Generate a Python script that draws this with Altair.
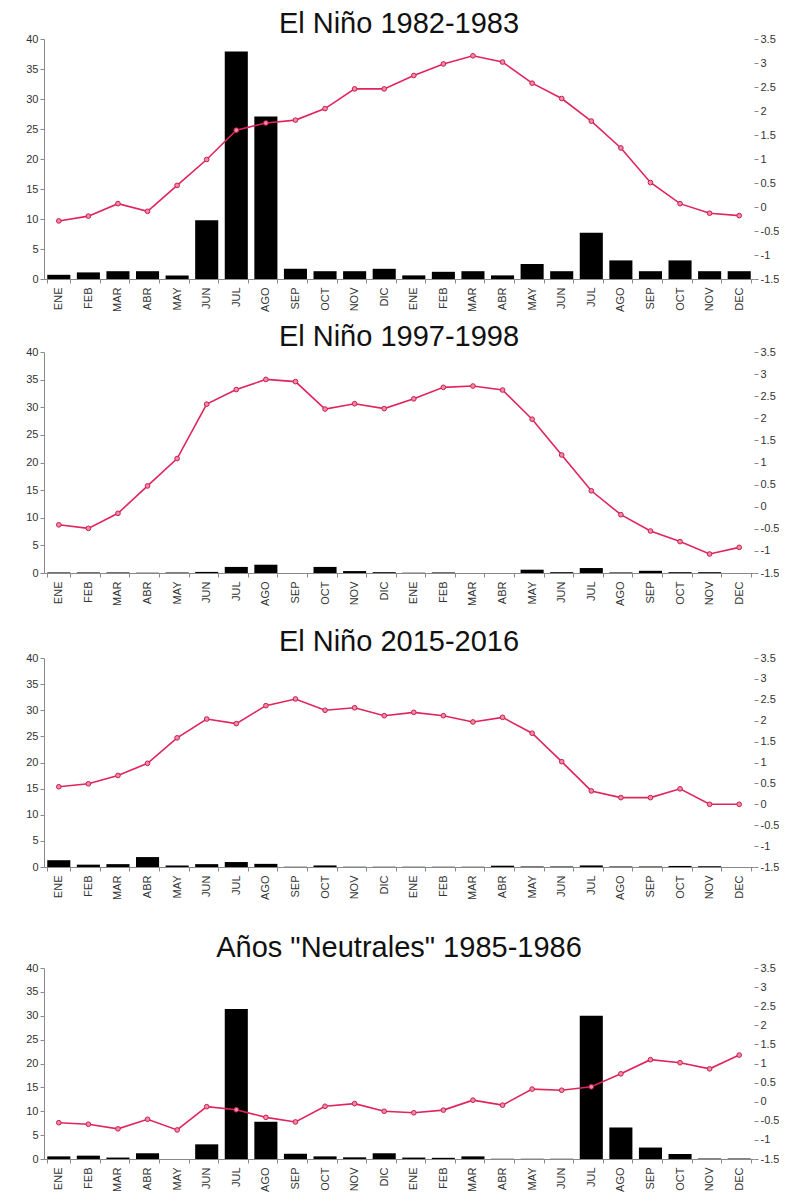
import altair as alt
import pandas as pd

months = ["ENE", "FEB", "MAR", "ABR", "MAY", "JUN", "JUL", "AGO", "SEP", "OCT", "NOV", "DIC",
          "ENE", "FEB", "MAR", "ABR", "MAY", "JUN", "JUL", "AGO", "SEP", "OCT", "NOV", "DEC"]

titles = ["El Niño 1982-1983", "El Niño 1997-1998", "El Niño 2015-2016", 'Años "Neutrales" 1985-1986']

bars_8283 = [0.7, 1.1, 1.3, 1.3, 0.6, 9.8, 37.9, 27.1, 1.7, 1.3, 1.3, 1.7,
             0.6, 1.2, 1.3, 0.6, 2.5, 1.3, 7.7, 3.1, 1.3, 3.1, 1.3, 1.3]
oni_8283 = [-0.29, -0.19, 0.07, -0.09, 0.45, 0.99, 1.60, 1.75, 1.81, 2.05, 2.46, 2.46,
            2.74, 2.98, 3.15, 3.02, 2.58, 2.26, 1.79, 1.23, 0.51, 0.07, -0.13, -0.18]

bars_9798 = [0.1, 0.1, 0.1, 0.05, 0.1, 0.2, 1.1, 1.5, 0.0, 1.1, 0.35, 0.15,
             0.05, 0.1, 0.0, 0.0, 0.6, 0.15, 0.9, 0.1, 0.4, 0.15, 0.15, 0.0]
oni_9798 = [-0.41, -0.49, -0.15, 0.47, 1.09, 2.32, 2.65, 2.88, 2.83, 2.21, 2.33, 2.22,
            2.44, 2.70, 2.73, 2.64, 1.98, 1.17, 0.36, -0.18, -0.55, -0.79, -1.07, -0.92]

bars_1516 = [1.3, 0.45, 0.55, 1.9, 0.3, 0.55, 0.95, 0.6, 0.05, 0.3, 0.05, 0.05,
             0.05, 0.05, 0.05, 0.25, 0.1, 0.1, 0.3, 0.1, 0.1, 0.2, 0.15, 0.0]
oni_1516 = [0.42, 0.49, 0.69, 0.98, 1.59, 2.04, 1.93, 2.36, 2.52, 2.25, 2.31, 2.12,
            2.20, 2.12, 1.97, 2.08, 1.70, 1.02, 0.32, 0.16, 0.16, 0.37, 0.0, 0.0]

bars_8586 = [0.55, 0.7, 0.3, 1.2, 0.0, 3.07, 31.4, 7.8, 1.1, 0.55, 0.35, 1.2,
             0.3, 0.25, 0.55, 0.05, 0.05, 0.05, 30.0, 6.6, 2.4, 1.05, 0.1, 0.1]
oni_8586 = [-0.55, -0.59, -0.71, -0.46, -0.74, -0.13, -0.21, -0.41, -0.53, -0.12, -0.05, -0.25,
            -0.29, -0.22, 0.04, -0.09, 0.33, 0.30, 0.39, 0.73, 1.10, 1.02, 0.86, 1.22]

left_ticks = [0, 5, 10, 15, 20, 25, 30, 35, 40]
right_ticks = [-1.5, -1, -0.5, 0, 0.5, 1, 1.5, 2, 2.5, 3, 3.5]

FONT = "Liberation Sans"
label_expr = "[" + ",".join("'%s'" % m for m in months) + "][datum.value]"


def panel(title, bars, oni, height, title_offset):
    df = pd.DataFrame({"i": list(range(len(months))), "bar": bars, "oni": oni})
    x = alt.X("i:O",
              scale=alt.Scale(paddingInner=0.22, paddingOuter=0.11),
              axis=alt.Axis(title=None, labelExpr=label_expr, labelAngle=270,
                            labelAlign="right", labelBaseline="middle",
                            tickBand="extent", labelFontSize=11, labelColor="#333333",
                            domainColor="#888888", tickColor="#888888", tickSize=4,
                            labelPadding=4, labelFont=FONT))
    b = alt.Chart(df).mark_bar(color="black").encode(
        x=x,
        y=alt.Y("bar:Q", scale=alt.Scale(domain=[0, 40], nice=False),
                axis=alt.Axis(title=None, values=left_ticks, tickCount=len(left_ticks),
                              grid=False, labelFontSize=11, labelColor="#333333",
                              labelFont=FONT, domainColor="#888888", tickColor="#888888",
                              tickSize=4, labelOverlap=False)),
    )
    yr = alt.Y("oni:Q", scale=alt.Scale(domain=[-1.5, 3.5], nice=False, zero=False),
               axis=alt.Axis(title=None, orient="right", values=right_ticks,
                             tickCount=len(right_ticks), grid=False,
                             domain=False, labelExpr="'' + datum.value",
                             labelFontSize=11, labelColor="#333333", labelFont=FONT,
                             tickColor="#888888", tickSize=4, labelOverlap=False))
    ln = alt.Chart(df).mark_line(color="#e0245e", strokeWidth=1.6).encode(x="i:O", y=yr)
    pt = alt.Chart(df).mark_point(filled=True, size=22, color="#f28aa5",
                                  stroke="#c8204f", strokeWidth=1, opacity=1).encode(x="i:O", y=yr)
    return alt.layer(b, ln + pt).resolve_scale(y="independent").properties(
        width=710, height=height,
        title=alt.TitleParams(title, fontSize=29, font=FONT, fontWeight="normal",
                              anchor="middle", offset=title_offset, color="#111111"),
    )


p1 = panel(titles[0], bars_8283, oni_8283, 240, -6)
p2 = panel(titles[1], bars_9798, oni_9798, 221, -6)
p3 = panel(titles[2], bars_1516, oni_1516, 209, -5)
p4 = panel(titles[3], bars_8586, oni_8586, 191, -1)

a = alt.vconcat(p1, p2, spacing=11)
b2 = alt.vconcat(a, p3, spacing=22)
chart = alt.vconcat(b2, p4, spacing=34).properties(
    padding={"left": 17, "top": 2, "right": 0, "bottom": 0}
).configure_view(stroke=None)

chart.save("out.html", embed_options={"renderer": "svg", "actions": False})
